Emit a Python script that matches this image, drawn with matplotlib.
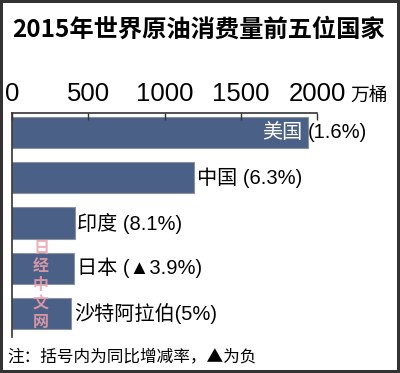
import matplotlib
matplotlib.use("Agg")
import matplotlib.pyplot as plt

plt.rcParams['font.family'] = ['Noto Sans CJK SC', 'DejaVu Sans']

countries = ["美国", "中国", "印度", "日本", "沙特阿拉伯"]
consumption = [1940, 1195, 410, 405, 390]
change_labels = [" (1.6%)", " (6.3%)", " (8.1%)", " (▲3.9%)", "(5%)"]
ticks = [0, 500, 1000, 1500, 2000]
tick_labels = ["0", "500", "1000", "1500", "2000"]

title = "2015年世界原油消费量前五位国家"
unit = "万桶"
note = "注：括号内为同比增减率，▲为负"
watermark = "日经中文网"

fig = plt.figure(figsize=(4, 3.73), dpi=100)
fig.patch.set_facecolor("white")
fig.patch.set_edgecolor("#333333")
fig.patch.set_linewidth(3)

ax = fig.add_axes([0.03, 0.0965, 0.7625, 0.6005])
ypos = list(range(len(countries)))
ax.barh(ypos, consumption, height=0.69, color="#4b6087", edgecolor="#8c929c", linewidth=0.8)
ax.set_xlim(0, 2000)
ax.set_ylim(4.53, -0.44)

for s in ["right", "bottom"]:
    ax.spines[s].set_visible(False)
ax.spines["top"].set_color("#333333")
ax.spines["left"].set_color("#333333")
ax.spines["top"].set_linewidth(1.2)
ax.spines["left"].set_linewidth(1.2)

ax.xaxis.tick_top()
ax.set_xticks(ticks)
ax.set_xticklabels(tick_labels, family=["Liberation Sans Narrow", "Liberation Sans"], fontsize=18.5)
ax.tick_params(axis="x", direction="in", length=5, width=1, color="#333333", pad=5)
ax.set_yticks([])

lab_font = ["Liberation Sans", "Noto Sans CJK SC"]
for i, (c, v, lab) in enumerate(zip(countries, consumption, change_labels)):
    if i == 0:
        ax.annotate(c, (v, i), xytext=(-4, 0), textcoords="offset points",
                    ha="right", va="center", color="white", fontsize=14.5, family=lab_font)
        ax.annotate(lab.strip(), (v, i), xytext=(0, 0), textcoords="offset points",
                    ha="left", va="center", color="black", fontsize=14.5, family=lab_font)
    else:
        ax.annotate(c + lab, (v, i), xytext=(2, 0), textcoords="offset points",
                    ha="left", va="center", color="black", fontsize=14.5, family=lab_font)

fig.text(12 / 400, 1 - 30 / 373, title, fontsize=17.5, fontweight="bold", va="center", ha="left")
fig.text(350 / 400, 1 - 95 / 373, unit, fontsize=13.5, va="center", ha="left")
fig.text(7 / 400, 1 - 357 / 373, note, fontsize=12, va="center", ha="left")
fig.text(41 / 400, 1 - 285 / 373, "\n".join(watermark), fontsize=11.5, fontweight="bold",
         color="#eea0aa", alpha=0.85, va="center", ha="center", linespacing=1.2)

fig.savefig("out.png", dpi=100, facecolor=fig.get_facecolor(), edgecolor=fig.get_edgecolor())
